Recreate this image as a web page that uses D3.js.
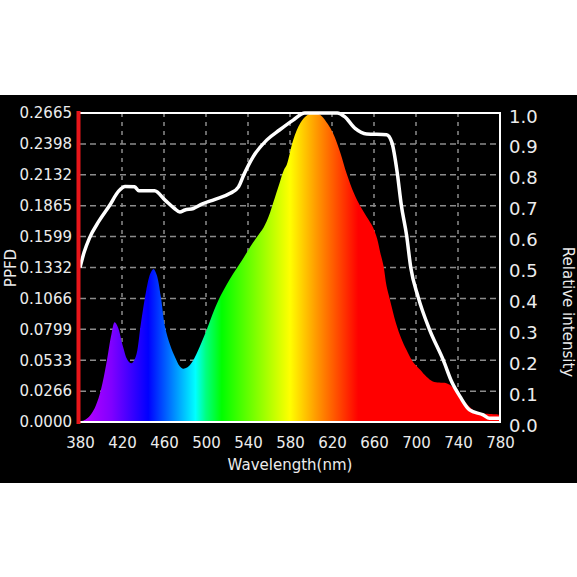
<!DOCTYPE html>
<html>
<head>
<meta charset="utf-8">
<title>PPFD spectrum</title>
<script src="https://d3js.org/d3.v7.min.js"></script>
<style>
  body { margin: 0; background: #fff; }
  text { font-family: "DejaVu Sans", sans-serif; fill: #ececec; }
</style>
</head>
<body>
<div id="container"></div>
<script>
// ---------------- data ----------------
const wavelengths = [380, 385, 390, 395, 400, 405, 410, 413, 416, 421, 425, 429, 433, 438, 443, 447, 450, 453, 457, 461, 466, 471, 475, 478, 482, 487, 494, 500, 508, 514, 520, 526, 534, 542, 548, 555, 560, 564, 570, 574, 577, 583, 590, 597, 604, 610, 616, 621, 628, 634, 641, 647, 653, 659, 663, 666, 669, 672, 675, 681, 686, 691, 697, 704, 710, 716, 722, 729, 735, 741, 748, 755, 761, 770, 777, 780];
const ppfd = [0.0005, 0.002, 0.006, 0.014, 0.028, 0.05, 0.076, 0.086, 0.082, 0.065, 0.054, 0.0506, 0.056, 0.085, 0.113, 0.128, 0.132, 0.127, 0.108, 0.082, 0.066, 0.055, 0.048, 0.046, 0.047, 0.052, 0.065, 0.078, 0.097, 0.109, 0.119, 0.128, 0.139, 0.151, 0.159, 0.168, 0.178, 0.189, 0.206, 0.217, 0.222, 0.243, 0.258, 0.265, 0.2665, 0.264, 0.257, 0.249, 0.232, 0.214, 0.197, 0.186, 0.177, 0.168, 0.158, 0.146, 0.135, 0.117, 0.106, 0.085, 0.072, 0.062, 0.052, 0.045, 0.039, 0.035, 0.034, 0.0334, 0.030, 0.023, 0.016, 0.010, 0.0075, 0.007, 0.0066, 0.006];

const relWavelengths = [380, 384, 389, 398, 408, 417, 423, 432, 436, 451, 461, 470, 475, 480, 488, 496, 508, 523, 531, 536, 545, 558, 570, 583, 594, 625, 632, 642, 653, 672, 677, 682, 686, 691, 695, 702, 713, 726, 734, 742, 751, 764, 770, 780];
const relIntensity = [0.50, 0.55, 0.595, 0.65, 0.70, 0.748, 0.762, 0.761, 0.748, 0.748, 0.718, 0.691, 0.68, 0.686, 0.691, 0.705, 0.72, 0.74, 0.761, 0.80, 0.859, 0.913, 0.945, 0.977, 1.0, 1.0, 0.988, 0.95, 0.932, 0.93, 0.905, 0.81, 0.702, 0.605, 0.50, 0.405, 0.298, 0.20, 0.13, 0.082, 0.039, 0.023, 0.012, 0.012];

const xTicks = [380, 420, 460, 500, 540, 580, 620, 660, 700, 740, 780];
const ppfdTicks = [0, 0.0266, 0.0533, 0.0799, 0.1066, 0.1332, 0.1599, 0.1865, 0.2132, 0.2398, 0.2665];
const relTicks = [0, 0.1, 0.2, 0.3, 0.4, 0.5, 0.6, 0.7, 0.8, 0.9, 1.0];

// colour of light along the wavelength axis
const gradWl = [380, 410, 445, 490, 500, 515, 580, 605, 645, 780];
const gradColor = ["#c000ff", "#8000ff", "#0000ff", "#00ffff", "#00ff80", "#00ff00", "#ffff00", "#ff9a00", "#ff0000", "#ff0000"];

// ---------------- layout ----------------
const width = 577, height = 577;
const plotLeft = 80, plotRight = 500, plotTop = 113, plotBottom = 422;

const svg = d3.select("#container").append("svg")
    .attr("width", width)
    .attr("height", height);

svg.append("rect")
    .attr("x", 0).attr("y", 95)
    .attr("width", width).attr("height", 388)
    .attr("fill", "#000");

const x = d3.scaleLinear().domain([380, 780]).range([plotLeft, plotRight]);
const y = d3.scaleLinear().domain([0, 0.2665]).range([plotBottom, plotTop]);
const yRel = d3.scaleLinear().domain([0, 1]).range([plotBottom, plotTop]);

// gradient
const grad = svg.append("defs").append("linearGradient")
    .attr("id", "spectrum")
    .attr("gradientUnits", "userSpaceOnUse")
    .attr("x1", x(380)).attr("x2", x(780))
    .attr("y1", 0).attr("y2", 0);
grad.selectAll("stop")
    .data(gradWl)
    .enter().append("stop")
    .attr("offset", d => (d - 380) / 400)
    .attr("stop-color", (d, i) => gradColor[i]);

// grid
const grid = svg.append("g");
grid.selectAll(".vgrid")
    .data(xTicks.slice(1, -1))
    .enter().append("line")
    .attr("x1", d => x(d)).attr("x2", d => x(d))
    .attr("y1", plotTop).attr("y2", plotBottom)
    .attr("stroke", "#8c8c8c")
    .attr("stroke-width", 1.5)
    .attr("stroke-dasharray", "4,5");
grid.selectAll(".hgrid")
    .data(ppfdTicks.slice(1, -1))
    .enter().append("line")
    .attr("x1", plotLeft).attr("x2", plotRight)
    .attr("y1", d => y(d)).attr("y2", d => y(d))
    .attr("stroke", "#8c8c8c")
    .attr("stroke-width", 1.5)
    .attr("stroke-dasharray", "6,4");

// spectrum area
const area = d3.area()
    .x((d, i) => x(wavelengths[i]))
    .y0(y(0))
    .y1(d => y(Math.max(0, d)))
    .curve(d3.curveCatmullRom.alpha(0.5));

svg.append("path")
    .datum(ppfd)
    .attr("d", area)
    .attr("fill", "url(#spectrum)");

// relative intensity line
const line = d3.line()
    .x((d, i) => x(relWavelengths[i]))
    .y(d => yRel(d))
    .curve(d3.curveMonotoneX);

svg.append("path")
    .datum(relIntensity)
    .attr("d", line)
    .attr("fill", "none")
    .attr("stroke", "#fff")
    .attr("stroke-width", 3.5)
    .attr("stroke-linejoin", "round");

// frame
svg.append("path")
    .attr("d", `M${plotLeft},${plotTop}H${plotRight}V${plotBottom}H${plotLeft}`)
    .attr("fill", "none")
    .attr("stroke", "#fff")
    .attr("stroke-width", 2);
svg.append("line")
    .attr("x1", plotLeft - 1.5).attr("x2", plotLeft - 1.5)
    .attr("y1", plotTop - 2).attr("y2", plotBottom + 2)
    .attr("stroke", "#e8161a")
    .attr("stroke-width", 4);

// axes
const yAxisLeft = d3.axisLeft(y)
    .tickValues(ppfdTicks)
    .tickFormat(d3.format(".4f"))
    .tickSize(0)
    .tickPadding(8);
const gl = svg.append("g")
    .attr("transform", `translate(${plotLeft},0)`)
    .call(yAxisLeft);
gl.select(".domain").remove();
gl.selectAll("text").style("font-size", "15px").attr("fill", "#ececec");

const yAxisRight = d3.axisRight(yRel)
    .tickValues(relTicks)
    .tickFormat(d3.format(".1f"))
    .tickSize(0)
    .tickPadding(9);
const gr = svg.append("g")
    .attr("transform", `translate(${plotRight},0)`)
    .call(yAxisRight);
gr.select(".domain").remove();
gr.selectAll("text").style("font-size", "18px").attr("fill", "#ececec").attr("dy", "0.5em");

const xAxis = d3.axisBottom(x)
    .tickValues(xTicks)
    .tickFormat(d3.format("d"))
    .tickSize(0)
    .tickPadding(15);
const gx = svg.append("g")
    .attr("transform", `translate(0,${plotBottom})`)
    .call(xAxis);
gx.select(".domain").remove();
gx.selectAll("text").style("font-size", "15px").attr("fill", "#ececec");

// titles
svg.append("text")
    .attr("x", (plotLeft + plotRight) / 2)
    .attr("y", 470)
    .attr("text-anchor", "middle")
    .style("font-size", "15px")
    .text("Wavelength(nm)");

svg.append("text")
    .attr("transform", "translate(11,268) rotate(-90)")
    .attr("text-anchor", "middle")
    .attr("dominant-baseline", "central")
    .style("font-size", "15px")
    .text("PPFD");

svg.append("text")
    .attr("transform", "translate(568,312) rotate(90)")
    .attr("text-anchor", "middle")
    .attr("dominant-baseline", "central")
    .style("font-size", "15px")
    .text("Relative intensity");
</script>
</body>
</html>
